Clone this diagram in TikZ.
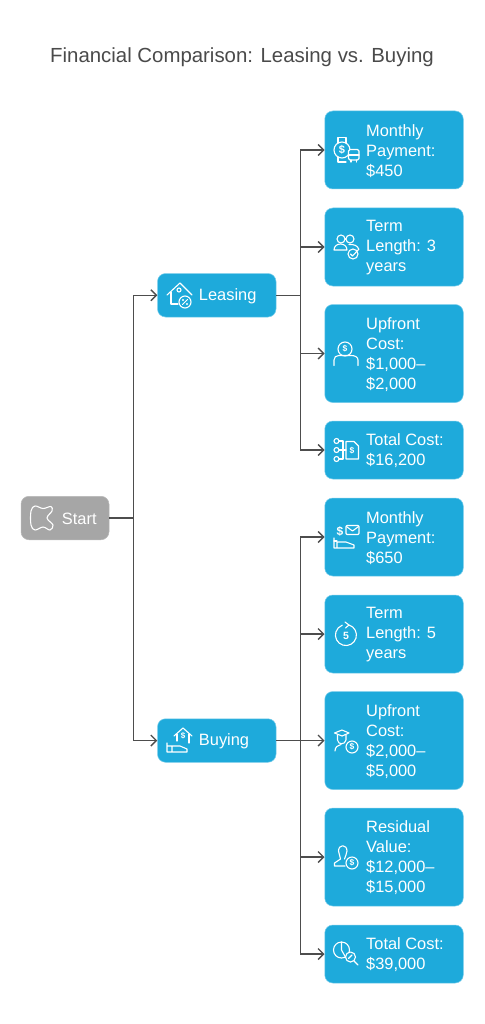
\documentclass[tikz,border=0pt]{standalone}
\usepackage{fontspec}
\setmainfont{Liberation Sans}
\usetikzlibrary{arrows.meta,calc,positioning}
\definecolor{cardblue}{RGB}{30,170,219}
\definecolor{cardedge}{RGB}{120,205,235}
\definecolor{startgray}{RGB}{166,166,166}
\definecolor{linkgray}{RGB}{77,77,77}
\definecolor{titlegray}{RGB}{74,74,74}

\begin{document}
\begin{tikzpicture}[
      x=1pt, y=-1pt,
      card/.style={rounded corners=8pt, minimum width=138.5pt, fill=cardblue, draw=cardedge, line width=0.5pt, inner sep=0pt},
      branch/.style={card, minimum width=118.5pt, minimum height=43.5pt},
      startcard/.style={branch, minimum width=88pt, fill=startgray, draw=startgray!80},
      cardtext/.style={align=left, inner sep=0pt, yshift=-1pt, text=white, font=\fontsize{16.4}{20}\selectfont},
      link/.style={draw=linkgray, line width=1.4pt},
      arrowlink/.style={link, -{Straight Barb[length=5.5pt, width=11pt, line width=1.4pt]}},
      icon/.style={draw=white, line width=1.1pt, line cap=round, line join=round},
      iconmark/.style={inner sep=0pt, text=white, font=\fontsize{8.5}{8.5}\selectfont\bfseries}
    ]
      \useasboundingbox (0,0) rectangle (484,1024);
      \fill[white] (0,0) rectangle (484,1024);

      % Title
      \node[text=titlegray, font=\fontsize{20.4}{24}\selectfont] (title) at (242,57.5) {Financial Comparison: Leasing vs. Buying};

      % Start and the two branches
      \node[startcard] (start) at (65,518) {};
      \node[cardtext, right=41pt of start.west] (starttext) {Start};
      \node[branch] (leasing) at (216.75,295.25) {};
      \node[cardtext, right=41.5pt of leasing.west] (leasingtext) {Leasing};
      \node[branch] (buying) at (216.75,740.5) {};
      \node[cardtext, right=41.5pt of buying.west] (buyingtext) {Buying};

      % Leasing cards
      \node[card, minimum height=78pt] (leasepay) at (394,150) {};
      \node[cardtext, right=41.5pt of leasepay.west] (leasepaytext) {Monthly\\Payment:\\\$450};
      \node[card, minimum height=78pt] (leaseterm) at (394,247) {};
      \node[cardtext, right=41.5pt of leaseterm.west] (leasetermtext) {Term\\Length: 3\\years};
      \node[card, minimum height=98pt] (leaseup) at (394,353.5) {};
      \node[cardtext, right=41.5pt of leaseup.west] (leaseuptext) {Upfront\\Cost:\\\$1,000–\\\$2,000};
      \node[card, minimum height=58pt] (leasetotal) at (394,450) {};
      \node[cardtext, right=41.5pt of leasetotal.west] (leasetotaltext) {Total Cost:\\\$16,200};

      % Buying cards
      \node[card, minimum height=78pt] (buypay) at (394,537) {};
      \node[cardtext, right=41.5pt of buypay.west] (buypaytext) {Monthly\\Payment:\\\$650};
      \node[card, minimum height=78pt] (buyterm) at (394,634) {};
      \node[cardtext, right=41.5pt of buyterm.west] (buytermtext) {Term\\Length: 5\\years};
      \node[card, minimum height=98pt] (buyup) at (394,740.5) {};
      \node[cardtext, right=41.5pt of buyup.west] (buyuptext) {Upfront\\Cost:\\\$2,000–\\\$5,000};
      \node[card, minimum height=98pt] (buyres) at (394,857) {};
      \node[cardtext, right=41.5pt of buyres.west] (buyrestext) {Residual\\Value:\\\$12,000–\\\$15,000};
      \node[card, minimum height=58pt] (buytotal) at (394,954) {};
      \node[cardtext, right=41.5pt of buytotal.west] (buytotaltext) {Total Cost:\\\$39,000};

      % Connectors
      \coordinate[right=24pt of start.east] (startbus);
      \coordinate[right=24pt of leasing.east] (leasingbus);
      \coordinate[right=24pt of buying.east] (buyingbus);
      \draw[link] (start.east) -- (startbus);
      \draw[arrowlink] (startbus) |- (leasing.west);
      \draw[arrowlink] (startbus) |- (buying.west);
      \draw[link] (leasing.east) -- (leasingbus);
      \draw[arrowlink] (leasingbus) |- (leasepay.west);
      \draw[arrowlink] (leasingbus) |- (leaseterm.west);
      \draw[arrowlink] (leasingbus) |- (leaseup.west);
      \draw[arrowlink] (leasingbus) |- (leasetotal.west);
      \draw[link] (buying.east) -- (buyingbus);
      \draw[arrowlink] (buyingbus) |- (buypay.west);
      \draw[arrowlink] (buyingbus) |- (buyterm.west);
      \draw[arrowlink] (buyingbus) |- (buyup.west);
      \draw[arrowlink] (buyingbus) |- (buyres.west);
      \draw[arrowlink] (buyingbus) |- (buytotal.west);

      % Start icon
      \draw[icon] plot[smooth cycle, tension=0.6] coordinates {(31,511) (35,506) (43,508.5) (51,506.5) (52,511) (47,518) (53,525) (50,530) (43,527) (35,530) (31,525)};

      % Leasing icon
      \draw[icon] (167,295) -- (180,283) -- (192,295);
      \draw[icon] (171,292) -- (171,304) -- (178,304);
      \draw[icon] (179,290) circle (2);
      \draw[icon, fill=cardblue] (185,302) circle (6);
      \draw[icon, line width=0.8pt] (182.5,304.5) -- (187.5,299.5);
      \draw[icon, line width=0.8pt] (183,300) circle (0.5) (187,304) circle (0.5);

      % Buying icon
      \draw[icon] (174,736) -- (183,728) -- (192,736);
      \draw[icon] (177,734) -- (177,741) (189,734) -- (189,743);
      \node[iconmark, font=\fontsize{8}{8}\selectfont\bfseries] (buyingdollar) at (183,736) {\$};
      \draw[icon] (167,743) -- (167,752) -- (187,752) -- (187,749) -- (180,746) -- (172,746) (167,746) -- (172,746) (172,746) -- (172,752);

      % Monthly payment icon, leasing
      \draw[icon] (342,150) circle (8);
      \draw[icon] (338,143) -- (338,137.5) -- (346,137.5) -- (346,143);
      \draw[icon] (338,157) -- (338,162) -- (346,162);
      \node[iconmark, font=\fontsize{11}{11}\selectfont\bfseries] (leasepaydollar) at (342,150) {\$};
      \draw[icon, fill=cardblue, rounded corners=1.5pt] (348.5,149.5) rectangle (359,160);
      \draw[icon] (348.5,155) -- (359,155);
      \draw[icon] (351,160) -- (351,162) (356.5,160) -- (356.5,162);

      % Term icon, leasing
      \draw[icon] (341,239) circle (4) (350,239) circle (4);
      \draw[icon] (334,250) .. controls (334,242) and (347,242) .. (347,250) -- cycle;
      \draw[icon] (349,244.5) .. controls (354,244) and (358,246) .. (358.5,249);
      \draw[icon, fill=cardblue] (353,254) circle (5);
      \draw[icon] (350.5,254) -- (352.5,256) -- (359,249);

      % Upfront icon, leasing
      \draw[icon] (345,349) circle (7);
      \node[iconmark] (leaseupdollar) at (345,349) {\$};
      \draw[icon] (334,365.5) -- (334,360) .. controls (334,357) and (336,355.5) .. (339,355.5) -- (351,355.5) .. controls (355,355.5) and (358,357) .. (358,360) -- (358,365.5);

      % Total cost icon, leasing
      \draw[icon] (336.5,441) circle (2.5) (336.5,450) circle (2.5) (336.5,459) circle (2.5);
      \draw[icon] (339,441) -- (343,441) -- (343,459) -- (339,459) (339,450) -- (346,450);
      \draw[icon] (346,441.5) -- (354,441.5) -- (358.5,446) -- (358.5,459) -- (346,459) -- cycle;
      \node[iconmark] (leasetotaldollar) at (352,450.5) {\$};

      % Monthly payment icon, buying
      \node[iconmark, font=\fontsize{12}{12}\selectfont\bfseries] (buypaydollar) at (340,531) {\$};
      \draw[icon, rounded corners=1pt] (346,525.5) rectangle (359,534.5);
      \draw[icon] (346.5,526.5) -- (352.5,531) -- (358.5,526.5);
      \draw[icon] (334,538) -- (334,548) -- (354,548) -- (354,545) -- (346,542) -- (337,542) -- (337,548);
      \draw[icon] (334,541) -- (337,541);

      % Term icon, buying
      \draw[icon] (349,625) arc (-73:250:10.5);
      \draw[icon] (345,622) -- (349,625) -- (345.5,628);
      \node[iconmark, font=\fontsize{10.5}{10.5}\selectfont\bfseries] (buytermfive) at (346,635.5) {5};

      % Upfront icon, buying
      \draw[icon] (334.5,733) -- (342,730) -- (349,733) -- (342,736) -- cycle;
      \draw[icon] (337.5,735) -- (337.5,740) .. controls (338,745) and (345,745) .. (346,740) -- (346,735);
      \draw[icon] (335,751) .. controls (335,747) and (338,745) .. (341,744.5);
      \draw[icon, fill=cardblue] (352,747) circle (6);
      \node[iconmark] (buyupdollar) at (352,747) {\$};

      % Residual value icon, buying
      \draw[icon] (338.5,851) .. controls (338.5,844) and (347,844) .. (347,851) .. controls (347,854) and (345,856) .. (344.5,859);
      \draw[icon] (338.5,851) .. controls (338.5,854) and (340.5,856) .. (340.5,859) -- (334.5,863) -- (334.5,866) -- (345,866);
      \draw[icon, fill=cardblue] (352,863) circle (6);
      \node[iconmark] (buyresdollar) at (352,863) {\$};

      % Total cost icon, buying
      \draw[icon] (341.5,950) circle (8);
      \draw[icon] (341.5,950) -- (341.5,942) (341.5,950) -- (346,958);
      \draw[icon, fill=cardblue] (350.5,957) circle (5);
      \draw[icon] (354,961) -- (358,965);
      \draw[icon] (348.5,958.5) -- (352,955);
    \end{tikzpicture}
\end{document}
